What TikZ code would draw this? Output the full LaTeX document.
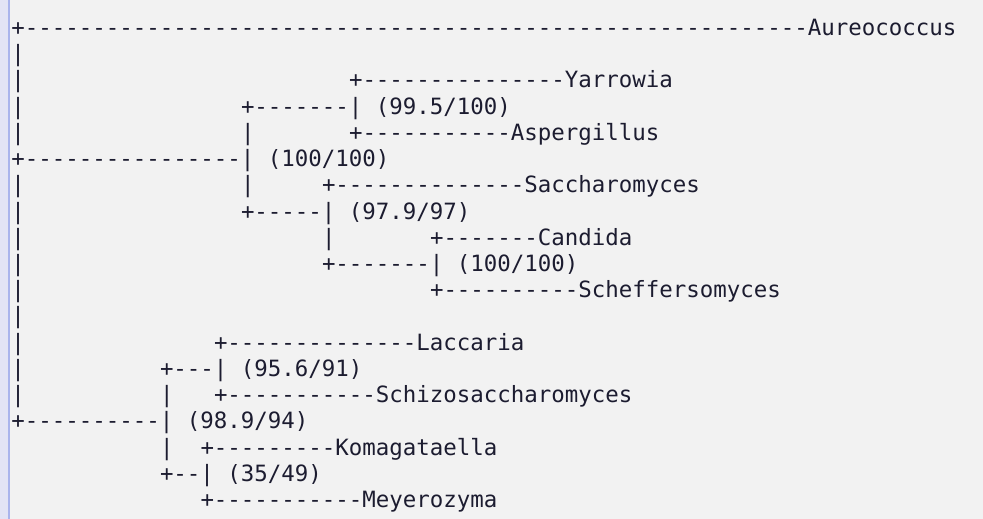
\documentclass[tikz,border=0pt]{standalone}
\usepackage{fontspec}
\setmonofont{DejaVu Sans Mono}
\definecolor{bgc}{HTML}{F2F2F2}
\definecolor{stripc}{HTML}{E2E3F5}
\definecolor{edgec}{HTML}{A9B3EC}
\definecolor{txtc}{HTML}{1C1C30}
\newcommand\dd[1]{\ifnum#1>0 -\expandafter\dd\expandafter{\the\numexpr#1-1\relax}\fi}
\newcommand\seg[3]{\node[txt] (r#1c#2) at ({11.5+13.5*#2},{519-35.5-26.22*#1}) {#3};}
\tikzset{txt/.style={anchor=base west,inner sep=0pt,outer sep=0pt,text=txtc,
  font=\ttfamily\fontsize{22.42}{26}\selectfont}}
\begin{document}
\begin{tikzpicture}[x=1pt,y=1pt]
\useasboundingbox (0,0) rectangle (983,519);
\fill[bgc] (0,0) rectangle (983,519);
\fill[stripc] (0,0) rectangle (8,519);
\fill[edgec] (8,0) rectangle (9.7,519);
\seg{0}{0}{+\dd{58}Aureococcus}
\seg{1}{0}{|}
\seg{2}{0}{|}\seg{2}{25}{+\dd{15}Yarrowia}
\seg{3}{0}{|}\seg{3}{17}{+\dd{7}| (99.5/100)}
\seg{4}{0}{|}\seg{4}{17}{|}\seg{4}{25}{+\dd{11}Aspergillus}
\seg{5}{0}{+\dd{16}| (100/100)}
\seg{6}{0}{|}\seg{6}{17}{|}\seg{6}{23}{+\dd{14}Saccharomyces}
\seg{7}{0}{|}\seg{7}{17}{+\dd{5}| (97.9/97)}
\seg{8}{0}{|}\seg{8}{23}{|}\seg{8}{31}{+\dd{7}Candida}
\seg{9}{0}{|}\seg{9}{23}{+\dd{7}| (100/100)}
\seg{10}{0}{|}\seg{10}{31}{+\dd{10}Scheffersomyces}
\seg{11}{0}{|}
\seg{12}{0}{|}\seg{12}{15}{+\dd{14}Laccaria}
\seg{13}{0}{|}\seg{13}{11}{+\dd{3}| (95.6/91)}
\seg{14}{0}{|}\seg{14}{11}{|}\seg{14}{15}{+\dd{11}Schizosaccharomyces}
\seg{15}{0}{+\dd{10}| (98.9/94)}
\seg{16}{11}{|}\seg{16}{14}{+\dd{9}Komagataella}
\seg{17}{11}{+\dd{2}| (35/49)}
\seg{18}{14}{+\dd{11}Meyerozyma}
\end{tikzpicture}
\end{document}
